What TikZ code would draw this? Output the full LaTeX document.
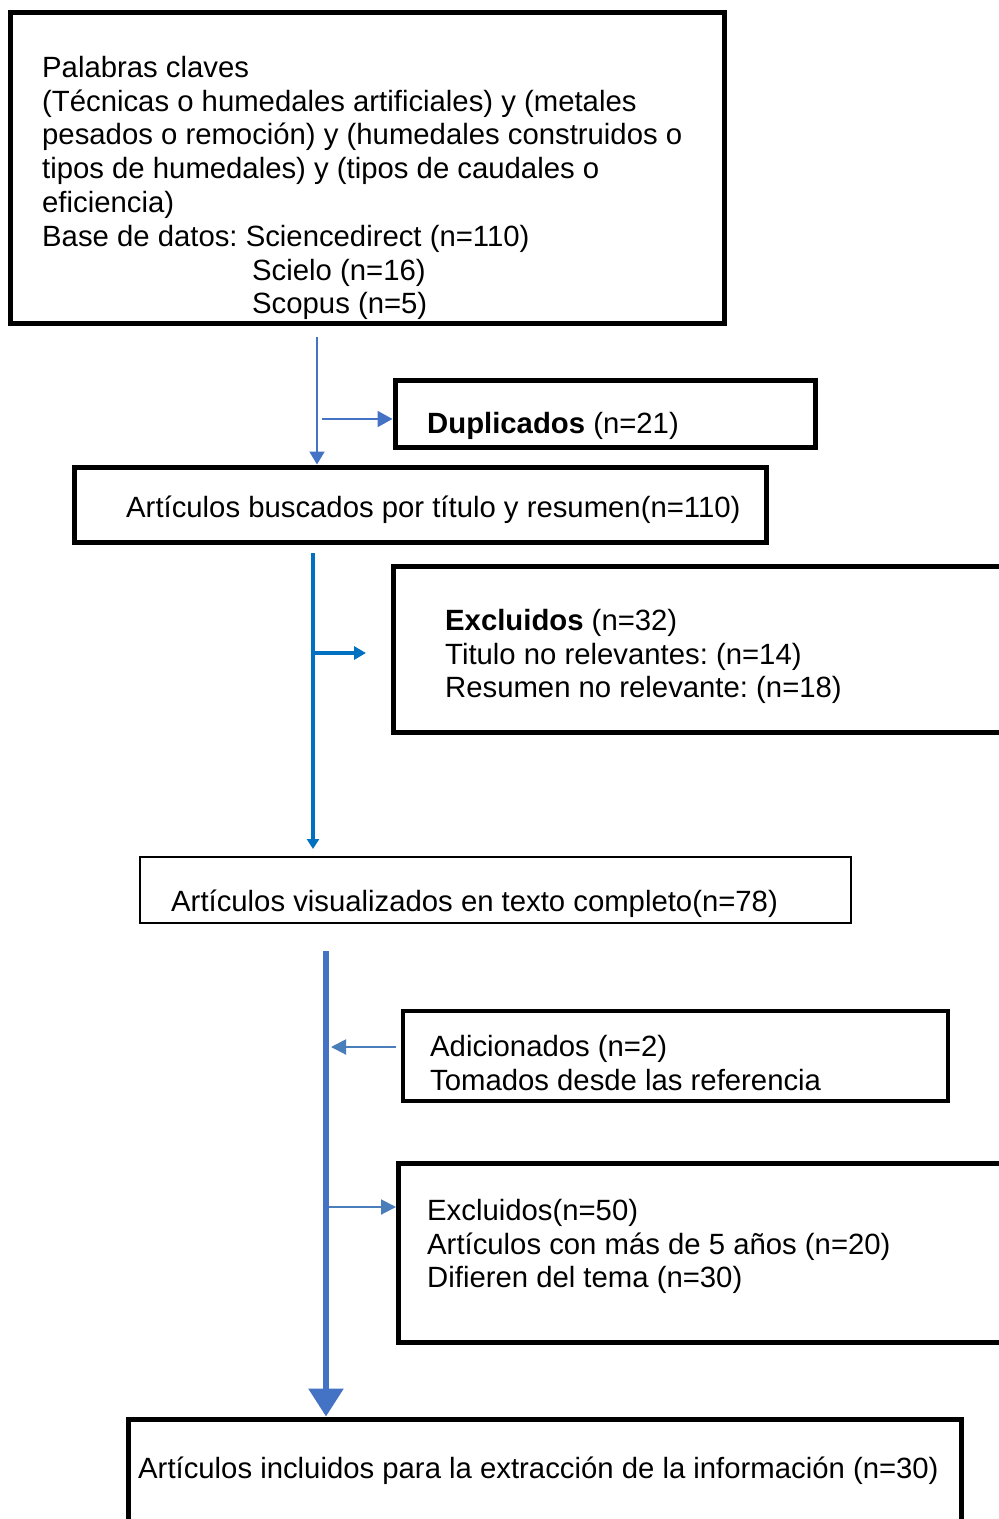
\documentclass[tikz,border=0pt]{standalone}
\usepackage{fontspec}
\setmainfont{Liberation Sans}
\usetikzlibrary{arrows.meta}
\definecolor{blueA}{HTML}{4472C4}
\definecolor{blueB}{HTML}{0070C0}
\definecolor{blueC}{HTML}{4A7EBB}
\tikzset{
  boxthick/.style={draw=black, line width=5pt, inner sep=0pt},
  boxthin/.style={draw=black, line width=2pt, inner sep=0pt},
  txt/.style={anchor=north west, inner sep=0pt, align=left, font=\fontsize{29.3}{33.8}\selectfont\frenchspacing},
}
\newcommand{\fs}{\rule{0pt}{24pt}}
\begin{document}
\begin{tikzpicture}[x=1pt,y=-1pt]
\clip (0,0) rectangle (999,1519);
\fill[white] (0,0) rectangle (999,1519);
% boxes
\node[boxthick, minimum width=714, minimum height=311] (box1) at (367.5,167.5) {};
\node[boxthick, minimum width=420, minimum height=67] (box2) at (605,413.5) {};
\node[boxthick, minimum width=692, minimum height=75] (box3) at (420.5,504.5) {};
\node[boxthick, minimum width=700, minimum height=166] (box4) at (743.5,649.5) {};
\node[boxthin, minimum width=711, minimum height=66] (box5) at (495.5,890) {};
\node[boxthick, line width=4.5pt, minimum width=545, minimum height=90] (box6) at (675.5,1056) {};
\node[boxthick, minimum width=702, minimum height=179] (box7) at (749.5,1253) {};
\node[boxthick, minimum width=833, minimum height=200] (box8) at (545,1519) {};
% texts
\node[txt] (t1) at (42,53) {\fs Palabras claves\\(Técnicas o humedales artificiales) y (metales\\pesados o remoción) y (humedales construidos o\\tipos de humedales) y (tipos de caudales o\\eficiencia)\\Base de datos: Sciencedirect (n=110)\\\hspace{210pt}Scielo (n=16)\\\hspace{210pt}Scopus (n=5)};
\node[txt] (t2) at (427,409) {\fs\textbf{Duplicados} (n=21)};
\node[txt] (t3) at (126,493) {\fs Artículos buscados por título y resumen(n=110)};
\node[txt] (t4) at (445,606) {\fs\textbf{Excluidos} (n=32)\\Titulo no relevantes: (n=14)\\Resumen no relevante: (n=18)};
\node[txt] (t5) at (171,887) {\fs Artículos visualizados en texto completo(n=78)};
\node[txt] (t6) at (430,1032) {\fs Adicionados (n=2)\\Tomados desde las referencia};
\node[txt] (t7) at (427,1196) {\fs Excluidos(n=50)\\Artículos con más de 5 años (n=20)\\Difieren del tema (n=30)};
\node[txt] (t8) at (138,1454) {\fs Artículos incluidos para la extracción de la información (n=30)};
% connectors
\coordinate (a1) at (317,337);
\draw[blueA, line width=2pt, -{Triangle[length=13pt,width=15pt]}] (a1) -- (a1 |- box3.north);
\coordinate (b1) at (322,419);
\draw[blueA, line width=2pt, -{Triangle[length=15pt,width=16pt]}] (b1) -- (b1 -| box2.west);
\coordinate (a2) at (313,553);
\coordinate (a2e) at (313,849);
\draw[blueB, line width=3.5pt, -{Triangle[length=10pt,width=12pt]}] (a2) -- (a2e);
\coordinate (b2) at (313,653);
\coordinate (b2e) at (366,653);
\draw[blueB, line width=3.5pt, -{Triangle[length=12pt,width=13pt]}] (b2) -- (b2e);
\coordinate (a3) at (326,951);
\draw[blueA, line width=6pt, -{Triangle[length=28pt,width=34pt]}] (a3) -- (a3 |- box8.north);
\coordinate (b3) at (396,1047);
\coordinate (b3e) at (331,1047);
\draw[blueC, line width=2pt, -{Triangle[length=15pt,width=15pt]}] (b3) -- (b3e);
\coordinate (b4) at (329,1207);
\draw[blueC, line width=2pt, -{Triangle[length=15pt,width=15pt]}] (b4) -- (b4 -| box7.west);
\end{tikzpicture}
\end{document}
